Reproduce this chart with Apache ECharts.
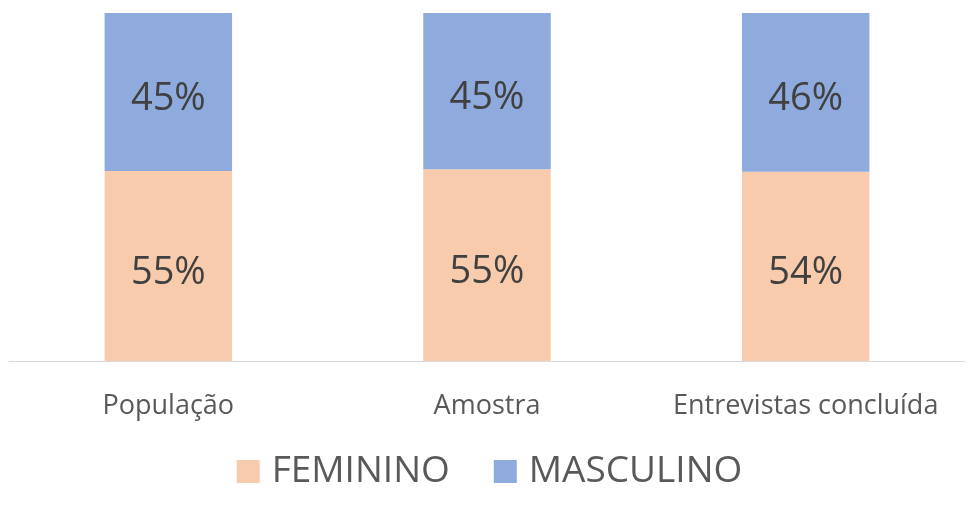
<!DOCTYPE html>
<html><head><meta charset="utf-8">
<script src="https://cdn.jsdelivr.net/npm/echarts@6/dist/echarts.min.js"></script>
<style>html,body{margin:0;padding:0;background:#fff}#c{width:979px;height:513px}</style>
</head><body><div id="c"></div>
<script>
var categories = ['População', 'Amostra', 'Entrevistas concluída'];
var feminino = [54.6, 55.1, 54.4];
var masculino = [45.4, 44.9, 45.6];
var seriesNames = ['FEMININO', 'MASCULINO'];
var font = '"Open Sans", "Noto Sans", sans-serif';
var chart = echarts.init(document.getElementById('c'));
function lbl(){ return {show:true, position:'inside', fontSize:38, color:'#404040', fontFamily:font, offset:[0,7],
  formatter:function(p){return Math.round(p.value)+'%';}}; }
chart.setOption({
  animation:false,
  grid:{left:9, right:14, top:13, bottom:152, containLabel:false},
  legend:{bottom:18, left:'center', itemWidth:23, itemHeight:23, itemGap:44, icon:'rect',
    textStyle:{fontSize:37, color:'#595959', fontFamily:font, padding:[0,0,0,7]},
    data:seriesNames},
  xAxis:{type:'category', data:categories,
    axisLine:{lineStyle:{color:'#d9d9d9', width:1}}, axisTick:{show:false},
    axisLabel:{interval:0, hideOverlap:false, fontSize:27, color:'#595959', fontFamily:font, margin:32}},
  yAxis:{type:'value', min:0, max:100, show:false, splitLine:{show:false}},
  series:[
    {name:seriesNames[0], type:'bar', stack:'s', data:feminino, barWidth:'40%',
      itemStyle:{color:'#F8CBAD'}, label:lbl()},
    {name:seriesNames[1], type:'bar', stack:'s', data:masculino, barWidth:'40%',
      itemStyle:{color:'#8FAADC'}, label:lbl()}
  ]
});
</script></body></html>
